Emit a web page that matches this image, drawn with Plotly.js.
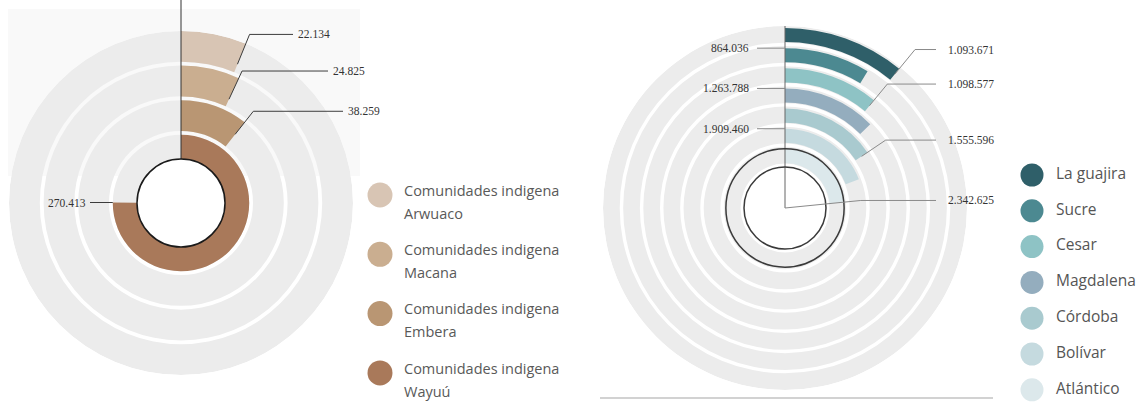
<!DOCTYPE html>
<html><head><meta charset="utf-8">
<script src="https://cdn.plot.ly/plotly-3.0.1.min.js"></script>
<style>html,body{margin:0;padding:0;background:#fff}#chart{width:1143px;height:405px}</style>
</head><body><div id="chart"></div>
<script>
// ---------------- DATA ----------------
const leftCategories = ['Comunidades indigena Arwuaco', 'Comunidades indigena Macana', 'Comunidades indigena Embera', 'Comunidades indigena Wayuú'];
const leftValues = [22134, 24825, 38259, 270413];
const leftFullCircle = 360000;

const rightCategories = ['La guajira', 'Sucre', 'Cesar', 'Magdalena', 'Córdoba', 'Bolívar', 'Atlántico'];
const rightValues = [1093671, 864036, 1098577, 1263788, 1555596, 1909460, 2342625];
const rightFullCircle = 10000000;

// ---------------- STYLE / LAYOUT ----------------
const leftColors = ['#d8c5b4', '#caae90', '#b99673', '#a9795a'];
const rightColors = ['#2f5f69', '#4c8991', '#8ec3c5', '#94adbe', '#a9cacf', '#c5dadf', '#dce8eb'];
const W = 1143, H = 405;
const RING_GRAY = '#ececec';
const LABEL_FONT = {family: 'Liberation Serif, Times New Roman, serif', size: 11.5, color: '#333'};

const charts = {
  left: {
    id: 'polar', cats: leftCategories, vals: leftValues, full: leftFullCircle, colors: leftColors,
    cx: 181, cy: 203, R: 172, holePx: 44, r0: 0.3, gray: 0.11, barLo: 0.11, barHi: 1.0,
    leader: {anchor: ['end', 'end', 'end', 'end'], startFrac: [0.28, 0.25, 0.5, 1.0],
             elbowPx: [10, 8, 14, 0], lineEndX: [293, 328, 343, 90]},
    gapR: 3, gapL: 2, lineColor: '#3c3c3c', axisTop: 0, axisColor: '#333',
    circles: [{r: 'hole', fill: '#ffffff', color: '#1a1a1a'}]
  },
  right: {
    id: 'polar2', cats: rightCategories, vals: rightValues, full: rightFullCircle, colors: rightColors,
    cx: 785, cy: 208, R: 182, holePx: 41, r0: 0, gray: 0.17, barLo: 0.2, barHi: 0.9,
    leader: {anchor: ['end', 'start', 'end', 'start', 'end', 'start', 'center'], startFrac: [0.5, 1, 0.5, 1, 0.5, 1, 0],
             elbowPx: [23, 0, 19, 0, 20, 0, 15], lineEndX: [936, 757, 936, 757, 936, 757, 936]},
    gapR: 10, gapL: 6, lineColor: '#8a8a8a', axisTop: 'R', axisColor: '#666',
    circles: [{r: 'hole', fill: 'rgba(0,0,0,0)', color: '#3a3a3a'}, {r: 0.9, fill: 'rgba(0,0,0,0)', color: '#3a3a3a'}]
  }
};

const fmt = v => String(v).replace(/\B(?=(\d{3})+(?!\d))/g, '.');

const traces = [];
const shapes = [];
const annotations = [];
const layout = {
  width: W, height: H, margin: {l: 0, r: 0, t: 0, b: 0},
  paper_bgcolor: '#ffffff', plot_bgcolor: 'rgba(0,0,0,0)',
  showlegend: false, hovermode: false,
  xaxis: {range: [0, W], domain: [0, 1], visible: false, fixedrange: true},
  yaxis: {range: [H, 0], domain: [0, 1], visible: false, fixedrange: true},
};

const toPaper = (x, y) => [x / W, 1 - y / H];

// faint panel behind the left chart
shapes.push({type: 'rect', xref: 'paper', yref: 'paper', layer: 'below',
  x0: 8 / W, x1: 360 / W, y0: 1 - 176 / H, y1: 1 - 9 / H, fillcolor: '#f9f9f9', line: {width: 0}});
// rule under right chart
shapes.push({type: 'line', xref: 'paper', yref: 'paper', layer: 'above',
  x0: 600 / W, x1: 993 / W, y0: 1 - 398 / H, y1: 1 - 398 / H, line: {color: '#d2d2d2', width: 2}});

Object.values(charts).forEach(c => {
  const N = c.cats.length;
  c.N = N;
  const unitToPx = r => c.holePx + (r - c.r0) / (N - c.r0) * (c.R - c.holePx);
  const pt = (rPx, deg) => { const a = deg * Math.PI / 180; return [c.cx + rPx * Math.sin(a), c.cy - rPx * Math.cos(a)]; };

  layout[c.id] = {
    domain: {x: [(c.cx - c.R) / W, (c.cx + c.R) / W], y: [1 - (c.cy + c.R) / H, 1 - (c.cy - c.R) / H]},
    hole: c.holePx / c.R, bgcolor: 'rgba(0,0,0,0)',
    radialaxis: {range: [c.r0, N], visible: false},
    angularaxis: {rotation: 90, direction: 'clockwise', visible: false}
  };

  const ring = c.cats.map((_, i) => N - 1 - i);  // first category = outermost ring
  // gray background rings
  const gBase = ring.map(k => Math.max(k + c.gray, c.r0));
  traces.push({type: 'barpolar', subplot: c.id, theta: ring.map(() => 180), width: ring.map(() => 360),
    base: gBase, r: ring.map((k, i) => k + 1 - gBase[i]),
    marker: {color: RING_GRAY, line: {width: 0}}, hoverinfo: 'skip'});
  // value bars
  const degs = c.vals.map(v => v / c.full * 360);
  const bBase = ring.map(k => Math.max(k + c.barLo, c.r0));
  traces.push({type: 'barpolar', subplot: c.id, theta: degs.map(d => d / 2), width: degs,
    base: bBase, r: ring.map((k, i) => k + c.barHi - bBase[i]),
    marker: {color: c.colors, line: {width: 0}}, hoverinfo: 'skip'});

  // vertical axis line
  const topY = c.axisTop === 'R' ? c.cy - c.R : c.axisTop;
  const botY = c.circles[0].fill === '#ffffff' ? c.cy - c.holePx : c.cy;
  let [ax0, ay0] = toPaper(c.cx, botY), [ax1, ay1] = toPaper(c.cx, topY);
  shapes.push({type: 'line', xref: 'paper', yref: 'paper', layer: 'above', x0: ax0, y0: ay0, x1: ax1, y1: ay1,
    line: {color: c.axisColor, width: 1}});

  // circles
  c.circles.forEach(ci => {
    const rp = ci.r === 'hole' ? c.holePx : unitToPx(ci.r);
    const [x0, y1] = toPaper(c.cx - rp, c.cy - rp), [x1, y0] = toPaper(c.cx + rp, c.cy + rp);
    shapes.push({type: 'circle', xref: 'paper', yref: 'paper', layer: 'above', x0, x1, y0, y1,
      fillcolor: ci.fill, line: {color: ci.color, width: 1.5}});
  });

  // leaders + labels
  c.cats.forEach((cat, i) => {
    const k = ring[i];
    const L = c.leader;
    let pts;
    if (L.anchor[i] === 'start') {
      const p0 = pt(unitToPx(k + c.barHi), 0);
      pts = [p0, [L.lineEndX[i], p0[1]]];
    } else {
      const startPx = L.anchor[i] === 'center' ? 0 : unitToPx(k + c.barLo + L.startFrac[i] * (c.barHi - c.barLo));
      const p0 = pt(startPx, degs[i]);
      const p1 = pt(unitToPx(k + 1) + L.elbowPx[i], degs[i]);
      pts = [p0, p1, [L.lineEndX[i], p1[1]]];
    }
    const path = pts.map((p, j) => { const q = toPaper(p[0], p[1]); return (j ? 'L' : 'M') + q[0] + ',' + q[1]; }).join(' ');
    shapes.push({type: 'path', xref: 'paper', yref: 'paper', layer: 'above', path, line: {color: c.lineColor, width: 1}});
    const last = pts[pts.length - 1];
    const toRight = last[0] > pts[pts.length - 2][0];
    const lx = toRight ? last[0] + c.gapR : last[0] - c.gapL;
    const [px_, py_] = toPaper(lx, last[1]);
    annotations.push({xref: 'paper', yref: 'paper', x: px_, y: py_, text: fmt(c.vals[i]), showarrow: false,
      xanchor: toRight ? 'left' : 'right', yanchor: 'middle', font: LABEL_FONT});
  });
});

// ---------------- LEGENDS ----------------
const LEG_FONT = 'Open Sans, Noto Sans, sans-serif';
// left legend (two-line labels)
const lTop = 195, lStep = 59.3, lMX = 380;
traces.push({type: 'scatter', mode: 'markers', x: leftCategories.map(() => lMX), y: leftCategories.map((_, i) => lTop + i * lStep),
  marker: {size: 25, color: leftColors, line: {width: 0}}, hoverinfo: 'skip'});
const split = s => { const j = s.lastIndexOf(' '); return [s.slice(0, j), s.slice(j + 1)]; };
traces.push({type: 'scatter', mode: 'text', x: leftCategories.map(() => 404), y: leftCategories.map((_, i) => lTop - 3 + i * lStep),
  text: leftCategories.map(s => split(s)[0]), textposition: 'middle right',
  textfont: {family: LEG_FONT, size: 14.5, color: '#595959'}, hoverinfo: 'skip'});
traces.push({type: 'scatter', mode: 'text', x: leftCategories.map(() => 404), y: leftCategories.map((_, i) => lTop + 20 + i * lStep),
  text: leftCategories.map(s => split(s)[1]), textposition: 'middle right',
  textfont: {family: LEG_FONT, size: 14.5, color: '#595959'}, hoverinfo: 'skip'});
// right legend
const rTop = 175, rStep = 35.8, rMX = 1032;
traces.push({type: 'scatter', mode: 'markers', x: rightCategories.map(() => rMX), y: rightCategories.map((_, i) => rTop + i * rStep),
  marker: {size: 23, color: rightColors, line: {width: 0}}, hoverinfo: 'skip'});
traces.push({type: 'scatter', mode: 'text', x: rightCategories.map(() => 1056), y: rightCategories.map((_, i) => rTop + i * rStep),
  text: rightCategories, textposition: 'middle right',
  textfont: {family: LEG_FONT, size: 15.5, color: '#555555'}, hoverinfo: 'skip'});

layout.shapes = shapes;
layout.annotations = annotations;
Plotly.newPlot('chart', traces, layout, {staticPlot: true, displayModeBar: false});
</script>
</body></html>
